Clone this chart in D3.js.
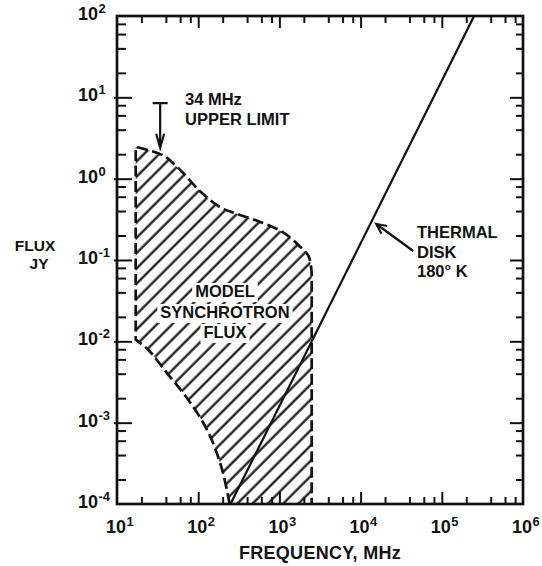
<!DOCTYPE html>
<html>
<head>
<meta charset="utf-8">
<script src="https://cdn.jsdelivr.net/npm/d3@7"></script>
<style>
  html, body { margin: 0; padding: 0; background: #fff; }
  svg { display: block; }
  text { font-family: "Liberation Sans", Arial, sans-serif; font-weight: bold; fill: #111; }
</style>
</head>
<body>
<svg id="chart" width="542" height="566"></svg>
<script>
// Axis decades and their exponent labels
const freqDecades = [1e1, 1e2, 1e3, 1e4, 1e5, 1e6];
const freqExponents = ["1", "2", "3", "4", "5", "6"];
const fluxDecades = [1e2, 1e1, 1e0, 1e-1, 1e-2, 1e-3, 1e-4];
const fluxExponents = ["2", "1", "0", "-1", "-2", "-3", "-4"];
const minorSteps = [2, 4, 6, 8];

// Model synchrotron flux envelope (MHz, Jy)
const synchTopFreq = [17, 37, 60, 107, 190, 300, 600, 1100, 1750, 2300, 2500];
const synchTopFlux = [2.45, 1.93, 1.28, 0.69, 0.44, 0.37, 0.29, 0.22, 0.15, 0.11, 0.068];
const synchBottomFreq = [244, 192, 130, 73, 41, 25, 17];
const synchBottomFlux = [1e-4, 2.9e-4, 8e-4, 2e-3, 4.1e-3, 7.6e-3, 0.0105];
const synchCutoffFreq = 2500;

// Thermal emission of a 180 K disk
const thermalFreq = [250, 2.5e5];
const thermalFlux = [1e-4, 1e2];

// 34 MHz upper limit
const limitFreq = 34;
const limitFlux = 8.5;
const limitArrowFlux = 2.4;

// Pointer to the thermal line
const thermalNoteFreq = [44500, 15600];
const thermalNoteFlux = [0.129, 0.277];

const ink = "#111";
const svg = d3.select("#chart");
const frame = { left: 117, right: 523, top: 16, bottom: 504 };

const x = d3.scaleLog().domain([1e1, 1e6]).range([frame.left, frame.right]);
const y = d3.scaleLog().domain([1e-4, 1e2]).range([frame.bottom, frame.top]);

const xMinor = [];
freqDecades.slice(0, -1).forEach(d => minorSteps.forEach(s => xMinor.push(d * s)));
const yMinor = [];
fluxDecades.slice(1).forEach(d => minorSteps.forEach(s => yMinor.push(d * s)));

// clip to plotting frame
const defs = svg.append("defs");
defs.append("clipPath").attr("id", "frameClip")
  .append("rect").attr("x", frame.left).attr("y", frame.top)
  .attr("width", frame.right - frame.left).attr("height", frame.bottom - frame.top);

// synchrotron envelope outline
const line = d3.line().x(d => x(d[0])).y(d => y(d[1])).curve(d3.curveCatmullRom.alpha(0.5));
const topPts = synchTopFreq.map((f, i) => [f, synchTopFlux[i]]);
const bottomPts = synchBottomFreq.map((f, i) => [f, synchBottomFlux[i]]);
const outline = line(bottomPts) + line(topPts).replace(/^M/, "L") +
  `L${x(synchCutoffFreq)},${y(1e-4)}`;
const area = outline + "Z";

const hatch = defs.append("pattern").attr("id", "hatch")
  .attr("patternUnits", "userSpaceOnUse")
  .attr("width", 20).attr("height", 10.8)
  .attr("patternTransform", "rotate(-45)");
hatch.append("rect").attr("x", 0).attr("y", 4.4).attr("width", 20).attr("height", 2.2).attr("fill", ink);

const plot = svg.append("g").attr("clip-path", "url(#frameClip)");
plot.append("path").attr("d", area).attr("fill", "url(#hatch)").attr("stroke", "none");

// label inside the envelope, knocked out of the hatching
const synchLabel = svg.append("g");
[["MODEL", 297], ["SYNCHROTRON", 318], ["FLUX", 338]].forEach(([t, by]) => {
  const g = synchLabel.append("g");
  const txt = g.append("text").attr("x", 225).attr("y", by)
    .attr("text-anchor", "middle").attr("font-size", 16.5).text(t);
  const bb = txt.node().getBBox();
  g.insert("rect", "text").attr("x", bb.x - 3).attr("y", bb.y + 1)
    .attr("width", bb.width + 6).attr("height", bb.height + 1).attr("fill", "#fff");
});

plot.append("path").attr("d", outline).attr("fill", "none")
  .attr("stroke", ink).attr("stroke-width", 2.7)
  .attr("stroke-dasharray", "11,4.5").attr("stroke-linejoin", "round");

// thermal disk line
plot.append("path")
  .attr("d", d3.line().x(d => x(d[0])).y(d => y(d[1]))(thermalFreq.map((f, i) => [f, thermalFlux[i]])))
  .attr("fill", "none").attr("stroke", ink).attr("stroke-width", 2.2);

// axes: ticks point inward on all four sides
function ticks(axis, transform) {
  const g = svg.append("g").attr("transform", transform).call(axis);
  g.select(".domain").remove();
  g.selectAll("text").remove();
  g.selectAll("line").attr("stroke", ink).attr("stroke-width", 2);
  return g;
}
const fmt = () => "";
ticks(d3.axisBottom(x).tickValues(xMinor).tickSizeInner(-7).tickSizeOuter(0).tickFormat(fmt), `translate(0,${frame.bottom})`);
ticks(d3.axisBottom(x).tickValues(freqDecades.slice(1, -1)).tickSizeInner(-12).tickSizeOuter(0).tickFormat(fmt), `translate(0,${frame.bottom})`);
ticks(d3.axisTop(x).tickValues(xMinor).tickSizeInner(-7).tickSizeOuter(0).tickFormat(fmt), `translate(0,${frame.top})`);
ticks(d3.axisTop(x).tickValues(freqDecades.slice(1, -1)).tickSizeInner(-12).tickSizeOuter(0).tickFormat(fmt), `translate(0,${frame.top})`);
ticks(d3.axisLeft(y).tickValues(yMinor).tickSizeInner(-9).tickSizeOuter(0).tickFormat(fmt), `translate(${frame.left},0)`);
ticks(d3.axisLeft(y).tickValues(fluxDecades.slice(1, -1)).tickSizeInner(-15).tickSizeOuter(0).tickFormat(fmt), `translate(${frame.left},0)`)
  .selectAll("line").attr("x1", -3);
ticks(d3.axisRight(y).tickValues(yMinor).tickSizeInner(-7).tickSizeOuter(0).tickFormat(fmt), `translate(${frame.right},0)`);
ticks(d3.axisRight(y).tickValues(fluxDecades.slice(1, -1)).tickSizeInner(-13).tickSizeOuter(0).tickFormat(fmt), `translate(${frame.right},0)`);

// frame
svg.append("rect").attr("x", frame.left).attr("y", frame.top)
  .attr("width", frame.right - frame.left).attr("height", frame.bottom - frame.top)
  .attr("fill", "none").attr("stroke", ink).attr("stroke-width", 2.7);

// power-of-ten tick labels
function powerLabel(g, px, py, exp, centerBase) {
  const t = g.append("text").attr("y", py).attr("font-size", 18);
  t.append("tspan").text("10");
  t.append("tspan").attr("font-size", 13).attr("dy", -7).attr("dx", 0.5).text(exp);
  let x0 = px;
  if (centerBase) {
    const w = t.select("tspan").node().getComputedTextLength();
    x0 = px - w / 2 - 1;
  }
  t.attr("x", x0);
}
const xl = svg.append("g");
freqDecades.forEach((d, i) => powerLabel(xl, x(d), 533, freqExponents[i], true));
const yl = svg.append("g");
fluxDecades.forEach((d, i) => powerLabel(yl, 78, y(d) + 4, fluxExponents[i], false));

// axis titles
svg.append("text").attr("x", 320).attr("y", 559).attr("text-anchor", "middle")
  .attr("font-size", 18).attr("letter-spacing", 0.3).text("FREQUENCY, MHz");
svg.append("text").attr("x", 35).attr("y", 251).attr("text-anchor", "middle")
  .attr("font-size", 15.5).text("FLUX");
svg.append("text").attr("x", 39).attr("y", 269).attr("text-anchor", "middle")
  .attr("font-size", 15.5).text("JY");

// 34 MHz upper limit marker
const lx = x(limitFreq), ly = y(limitFlux), lt = y(limitArrowFlux);
svg.append("path")
  .attr("d", `M${lx - 7.5},${ly}H${lx + 7.5}M${lx},${ly}V${lt}M${lx - 4},${lt - 14}L${lx},${lt}L${lx + 4},${lt - 14}`)
  .attr("fill", "none").attr("stroke", ink).attr("stroke-width", 2.2);
svg.append("text").attr("x", 185).attr("y", 105).attr("font-size", 16.5).text("34 MHz");
svg.append("text").attr("x", 185).attr("y", 125).attr("font-size", 16.5).text("UPPER LIMIT");

// thermal disk annotation
const ax0 = x(thermalNoteFreq[0]), ay0 = y(thermalNoteFlux[0]);
const ax1 = x(thermalNoteFreq[1]), ay1 = y(thermalNoteFlux[1]);
const ang = Math.atan2(ay1 - ay0, ax1 - ax0);
const head = 11, spread = 0.45;
const h1 = [ax1 - head * Math.cos(ang - spread), ay1 - head * Math.sin(ang - spread)];
const h2 = [ax1 - head * Math.cos(ang + spread), ay1 - head * Math.sin(ang + spread)];
svg.append("path")
  .attr("d", `M${ax0},${ay0}L${ax1},${ay1}M${h1[0]},${h1[1]}L${ax1},${ay1}L${h2[0]},${h2[1]}`)
  .attr("fill", "none").attr("stroke", ink).attr("stroke-width", 2.2);
[["THERMAL", 238], ["DISK", 258], ["180° K", 277]].forEach(([t, by]) =>
  svg.append("text").attr("x", 417).attr("y", by).attr("font-size", 16.5).text(t));
</script>
</body>
</html>
